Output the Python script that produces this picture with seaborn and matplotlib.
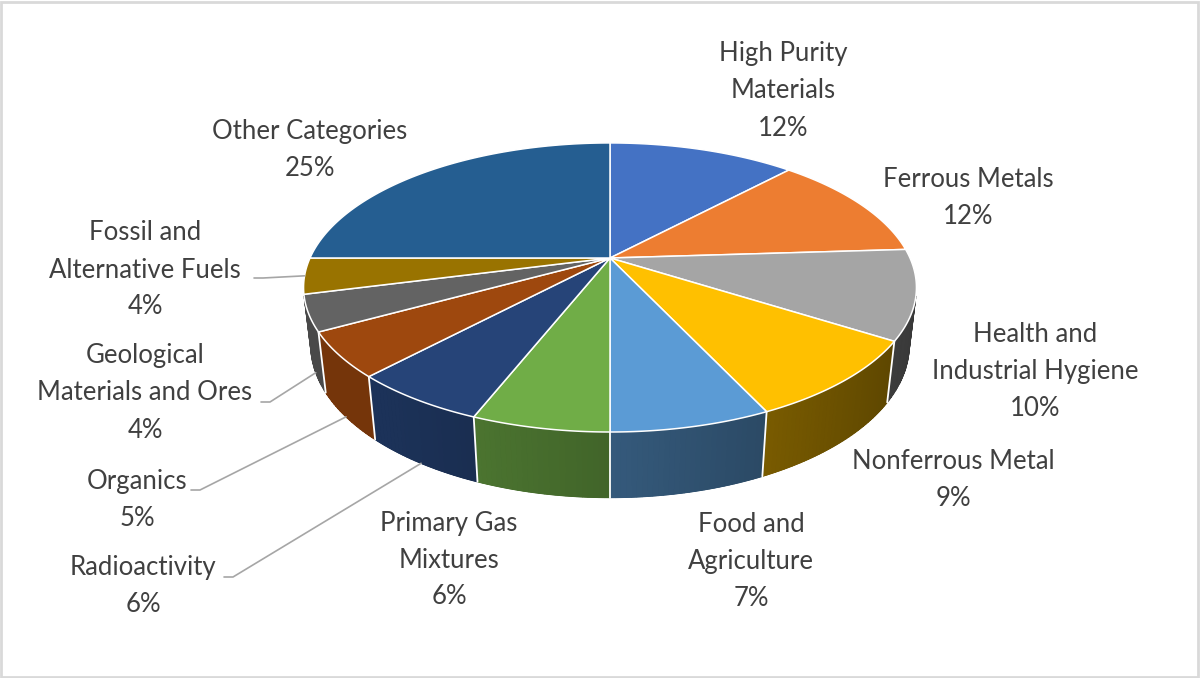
import numpy as np
import matplotlib.pyplot as plt
import seaborn as sns
from matplotlib.patches import Polygon, Rectangle
from matplotlib.colors import to_rgb

sns.set_theme(style="white")
plt.rcParams["font.family"] = ["Lato", "DejaVu Sans"]

# data, clockwise from 12 o'clock
categories = ["High Purity\nMaterials", "Ferrous Metals", "Health and\nIndustrial Hygiene",
              "Nonferrous Metal", "Food and\nAgriculture", "Primary Gas\nMixtures",
              "Radioactivity", "Organics", "Geological\nMaterials and Ores",
              "Fossil and\nAlternative Fuels", "Other Categories"]
shares = [12, 12, 10, 9, 7, 6, 6, 5, 4, 4, 25]
colors = ["#4472C4", "#ED7D31", "#A5A5A5", "#FFC000", "#5B9BD5", "#70AD47",
          "#264478", "#9E480E", "#636363", "#997300", "#255E91"]

# layout: label centres (pixels) and leader lines (start point, height on rim)
label_pos = [(783, 91), (968, 198), (1035, 372), (953, 480), (751, 562), (449, 560),
             (143, 586), (137, 500), (145, 393), (145, 270), (310, 150)]
leaders = {6: ((224, 577), -1.0), 7: ((191, 490), -1.0), 8: ((261, 402), -1.0),
           9: ((254, 278), 0.0)}

# simple perspective camera for the 3d disc
CX, CY = 610, 258
F, D = 1305, 4.35
ELEV = np.radians(27.5)
DEPTH = 0.217


def project(theta, z=0.0, r=1.0):
    x = r * np.cos(theta)
    y = r * np.sin(theta)
    s, c = np.sin(ELEV), np.cos(ELEV)
    v = y * s + z * c
    w = D + y * c - z * s
    return CX + F * x / w, CY - F * v / w


def arc(a0, a1, z=0.0, n=None):
    n = n or max(int(abs(a0 - a1) / np.radians(0.5)), 2)
    t = np.linspace(a0, a1, n)
    px, py = project(t, z)
    return np.column_stack([px, py])


def shade(col, f):
    return tuple(min(max(ch * f, 0), 1) for ch in to_rgb(col))


def wall_factor(t):
    # lighter on the left, darker towards the right
    return min(0.58 - 0.25 * np.cos(t), 0.74)


fig = plt.figure(figsize=(12, 6.78), dpi=100)
ax = fig.add_axes([0, 0, 1, 1])
ax.set_xlim(0, 1200)
ax.set_ylim(678, 0)
ax.axis("off")

frac = np.array(shares) / sum(shares)
bounds = np.radians(90 - 360 * np.concatenate([[0], np.cumsum(frac)]))

# visible part of the side wall
lim = np.arcsin(-1 / (D * np.cos(ELEV)))
vis_lo, vis_hi = -np.pi - lim, lim

# side walls: solid underlay, then thin strips for shading
for i, col in enumerate(colors):
    a0, a1 = bounds[i], bounds[i + 1]
    hi, lo = min(a0, vis_hi), max(a1, vis_lo)
    if hi <= lo:
        continue
    base = shade(col, wall_factor((hi + lo) / 2))
    pts = np.vstack([arc(hi, lo, 0), arc(lo, hi, -DEPTH)])
    ax.add_patch(Polygon(pts, closed=True, fc=base, ec=base, lw=0.5, zorder=1))
    steps = np.linspace(hi, lo, max(int((hi - lo) / np.radians(0.8)), 2))
    for t0, t1 in zip(steps[:-1], steps[1:]):
        c = shade(col, wall_factor((t0 + t1) / 2))
        pts = np.vstack([arc(t0, t1, 0, 4), arc(t1, t0, -DEPTH, 4)])
        ax.add_patch(Polygon(pts, closed=True, fc=c, ec=c, lw=0.8, zorder=1.5))

# white seams on the side wall
for b in bounds:
    if vis_lo < b < vis_hi:
        x0, y0 = project(b, 0)
        x1, y1 = project(b, -DEPTH)
        ax.plot([x0, x1], [y0, y1], color="white", lw=1.3, zorder=2)

# top faces
for i, col in enumerate(colors):
    pts = np.vstack([[CX, CY], arc(bounds[i], bounds[i + 1])])
    ax.add_patch(Polygon(pts, closed=True, fc=col, ec="white", lw=1.1,
                         joinstyle="round", zorder=3))

# labels
for i, (name, val) in enumerate(zip(categories, shares)):
    x, y = label_pos[i]
    ax.text(x, y, f"{name}\n{val}%", ha="center", va="center", fontsize=18.5,
            color="#404040", linespacing=1.6, zorder=5)

# leader lines
for i, ((sx, sy), zf) in leaders.items():
    mid = (bounds[i] + bounds[i + 1]) / 2
    ex, ey = project(mid, zf * DEPTH)
    ax.plot([sx, sx + 9, ex], [sy, sy, ey], color="#A6A6A6", lw=1.2, zorder=4)

fig.add_artist(Rectangle((0.001, 0.002), 0.997, 0.995, transform=fig.transFigure,
                         fill=False, ec="#D9D9D9", lw=2))

fig.savefig("out.png", dpi=100)
